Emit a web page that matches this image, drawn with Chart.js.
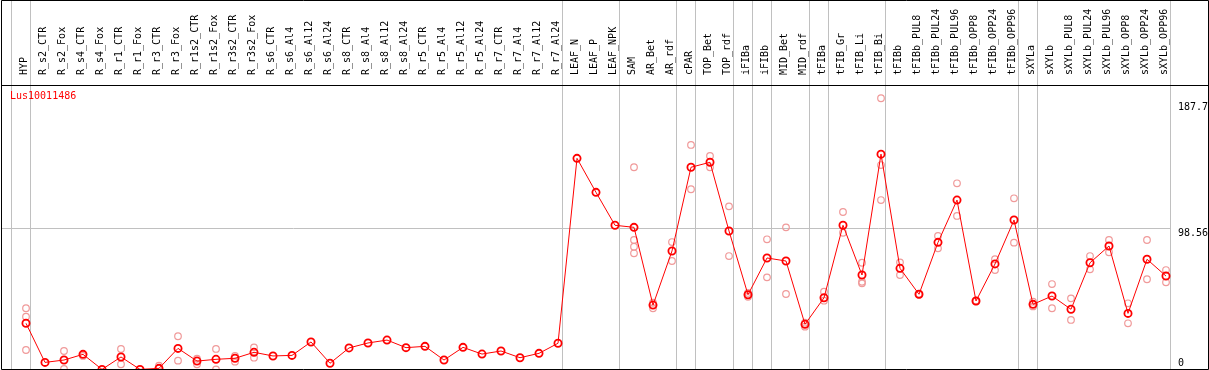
<!DOCTYPE html>
<html>
<head>
<meta charset="utf-8">
<script src="https://cdn.jsdelivr.net/npm/chart.js@4.4.1/dist/chart.umd.min.js"></script>
<style>
  html, body { margin: 0; padding: 0; background: #fff; }
  #chart { display: block; }
</style>
</head>
<body>
<canvas id="chart" width="1209" height="370"></canvas>
<script>
// gene shown in the top-left corner
const geneName = 'Lus10011486';

const categories = [
  'HYP', 'R_s2_CTR', 'R_s2_Fox', 'R_s4_CTR', 'R_s4_Fox', 'R_r1_CTR', 'R_r1_Fox',
  'R_r3_CTR', 'R_r3_Fox', 'R_r1s2_CTR', 'R_r1s2_Fox', 'R_r3s2_CTR', 'R_r3s2_Fox',
  'R_s6_CTR', 'R_s6_Al4', 'R_s6_Al12', 'R_s6_Al24', 'R_s8_CTR', 'R_s8_Al4',
  'R_s8_Al12', 'R_s8_Al24', 'R_r5_CTR', 'R_r5_Al4', 'R_r5_Al12', 'R_r5_Al24',
  'R_r7_CTR', 'R_r7_Al4', 'R_r7_Al12', 'R_r7_Al24', 'LEAF_N', 'LEAF_P', 'LEAF_NPK',
  'SAM', 'AR_Bet', 'AR_rdf', 'cPAR', 'TOP_Bet', 'TOP_rdf', 'iFIBa', 'iFIBb',
  'MID_Bet', 'MID_rdf', 'tFIBa', 'tFIB_Gr', 'tFIB_Li', 'tFIB_Bi', 'tFIBb',
  'tFIBb_PUL8', 'tFIBb_PUL24', 'tFIBb_PUL96', 'tFIBb_OPP8', 'tFIBb_OPP24', 'tFIBb_OPP96',
  'sXYLa', 'sXYLb', 'sXYLb_PUL8', 'sXYLb_PUL24', 'sXYLb_PUL96', 'sXYLb_OPP8',
  'sXYLb_OPP24', 'sXYLb_OPP96'
];

// mean expression per sample (red line)
const meanValues = [
  33.4, 6.6, 8.2, 12.1, 1.8, 10.3, 1.8, 2.5, 16.2, 7.5, 8.7, 9.4, 13.5,
  11.0, 11.4, 20.6, 6.0, 16.5, 19.9, 21.9, 16.7, 17.6, 8.2, 16.9, 12.3,
  14.4, 9.8, 12.8, 19.7, 146.5, 123.2, 100.6,
  99.2, 45.9, 83.0, 140.4, 143.8, 96.7, 53.0, 78.2, 76.1, 32.7,
  50.9, 100.6, 66.5, 149.4, 71.1, 53.3, 88.9, 117.9, 48.7, 74.1, 104.2,
  46.4, 52.1, 43.0, 74.9, 86.4, 40.2, 77.3, 65.8
];

// single replicates per sample (pale circles)
const replicateValues = [
  [43.7, 37.9, 15.1], [], [14.4, 2.1], [11.0], [], [15.8, 5.3], [], [4.3],
  [24.5, 7.8], [9.1, 5.3], [15.8, 1.8], [11.0, 7.1], [16.9, 9.8],
  [], [], [], [], [], [], [], [], [], [], [], [], [], [], [], [],
  [], [], [],
  [140.4, 90.5, 85.9, 81.4], [47.5, 43.7], [89.1, 76.1], [155.7, 125.3],
  [148.1, 140.4], [113.6, 79.5], [51.6, 54.2], [91.0, 64.9], [99.2, 53.5],
  [31.1, 33.8], [55.1, 48.9], [109.7, 95.5], [74.9, 61.9, 60.8],
  [187.7, 141.9, 117.9], [75.2, 66.5], [53.6, 53.0], [93.3, 84.8],
  [129.4, 107.0], [49.0, 48.4], [77.3, 69.9], [119.1, 88.7],
  [48.2, 45.0], [60.3, 43.7], [50.5, 35.7], [79.5, 70.4], [90.5, 82.1],
  [47.1, 33.4], [90.5, 63.6], [69.9, 61.5]
];

// index of the last sample in each group (grey separators)
const groupEnds = [-1, 0, 28, 31, 34, 35, 37, 38, 39, 41, 42, 45, 52, 53, 60];

const yTicks = [0, 98.56, 187.7];
const yTickLabels = ['0', '98.56', '187.7'];

const MONO = '"DejaVu Sans Mono", "Liberation Mono", monospace';
const GREY = '#c0c0c0';

const meanPoints = meanValues.map((v, i) => ({ x: i, y: v }));
const replicatePoints = [];
replicateValues.forEach((reps, i) => {
    reps.forEach(v => replicatePoints.push({ x: i, y: v }));
});

// x range chosen so sample 0 sits at 26px and samples are 19px apart
const xMin = -25 / 19;
const xMax = 1145 / 19;

// frame around the plot and the gene name
const framePlugin = {
    id: 'frame',
    afterDraw(chart) {
        const ctx = chart.ctx;
        const area = chart.chartArea;
        ctx.save();
        ctx.strokeStyle = '#000';
        ctx.lineWidth = 1;
        ctx.beginPath();
        ctx.rect(1.5, 0.5, chart.width - 2, chart.height - 1);
        ctx.moveTo(1, area.top + 0.5);
        ctx.lineTo(chart.width, area.top + 0.5);
        ctx.stroke();
        ctx.fillStyle = '#ff0000';
        ctx.font = '10px ' + MONO;
        ctx.textBaseline = 'middle';
        ctx.fillText(geneName, 10, area.top + 11);
        ctx.restore();
    }
};

const ctx = document.getElementById('chart').getContext('2d');
const chart = new Chart(ctx, {
    type: 'line',
    data: {
        datasets: [{
            data: meanPoints,
            borderColor: '#ff0000',
            borderWidth: 1,
            tension: 0,
            pointRadius: 3.6,
            pointBorderWidth: 1.8,
            pointBorderColor: '#ff0000',
            pointBackgroundColor: 'rgba(0,0,0,0)'
        }, {
            data: replicatePoints,
            showLine: false,
            pointRadius: 3.3,
            pointBorderWidth: 1.2,
            pointBorderColor: '#f09a9a',
            pointBackgroundColor: 'rgba(0,0,0,0)'
        }]
    },
    options: {
        responsive: false,
        animation: false,
        events: [],
        layout: { autoPadding: false, padding: { left: 1, top: 0, right: 0, bottom: 1 } },
        plugins: {
            legend: { display: false },
            title: { display: false },
            tooltip: { enabled: false }
        },
        scales: {
            x: {
                type: 'linear',
                position: 'top',
                weight: 1,
                min: xMin,
                max: xMax,
                afterBuildTicks: s => { s.ticks = categories.map((c, i) => ({ value: i })); },
                afterFit: s => { s.height = 85; s.paddingLeft = 0; s.paddingRight = 0; },
                grid: { display: false },
                border: { display: false },
                ticks: {
                    autoSkip: false,
                    minRotation: 90,
                    maxRotation: 90,
                    padding: 2,
                    labelOffset: 10,
                    color: '#000',
                    font: { family: MONO, size: 10 },
                    callback: (v, i) => categories[i]
                }
            },
            sep: {
                type: 'linear',
                position: 'top',
                weight: 0,
                min: xMin,
                max: xMax,
                afterBuildTicks: s => { s.ticks = groupEnds.map(i => ({ value: i + 0.25 })); },
                afterFit: s => { s.height = 0; s.paddingLeft = 0; s.paddingRight = 0; },
                grid: { color: GREY, lineWidth: 1, tickLength: 85, drawTicks: true },
                border: { display: false },
                ticks: { display: false }
            },
            y: {
                type: 'linear',
                position: 'right',
                min: 2.06,
                max: 196.8,
                // labels are kept inside the plot like the original
                afterBuildTicks: s => {
                    s.ticks = yTicks.map(v => ({ value: Math.min(Math.max(v, s.min + 7.5), s.max - 12) }));
                },
                afterFit: s => { s.width = 38; s.paddingTop = 0; s.paddingBottom = 0; },
                grid: {
                    color: c => c.index === 1 ? GREY : 'rgba(0,0,0,0)',
                    drawTicks: false
                },
                border: { display: false },
                ticks: {
                    padding: 7,
                    labelOffset: 5,
                    color: '#000',
                    font: { family: MONO, size: 10 },
                    callback: (v, i) => yTickLabels[i]
                }
            }
        }
    },
    plugins: [framePlugin]
});
</script>
</body>
</html>
